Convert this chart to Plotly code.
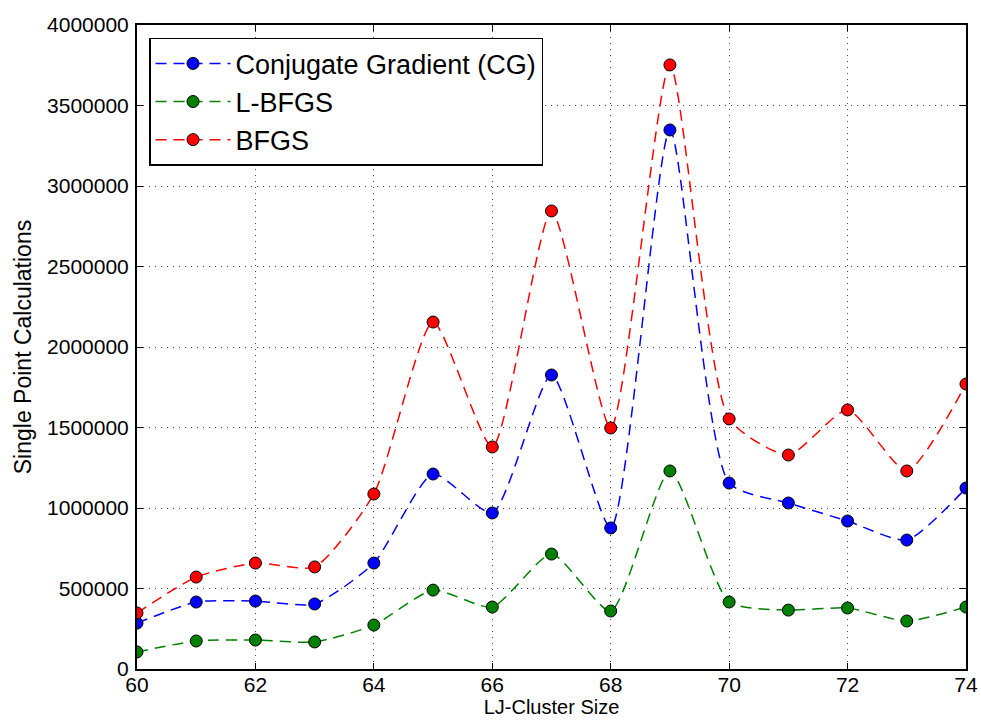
import plotly.graph_objects as go

sizes = list(range(60, 75))
cg = [285000, 416000, 422000, 404000, 658000, 1211000, 969000, 1826000, 876000, 3348000,
      1155000, 1031000, 919000, 801000, 1124000]
lbfgs = [106000, 174000, 180000, 168000, 273000, 490000, 385000, 714000, 360000, 1230000,
         416000, 366000, 379000, 298000, 385000]
bfgs = [348000, 571000, 658000, 634000, 1087000, 2155000, 1379000, 2845000, 1497000, 3752000,
        1553000, 1329000, 1609000, 1230000, 1770000]
x_ticks = [60, 62, 64, 66, 68, 70, 72, 74]

series = [("Conjugate Gradient (CG)", cg, "#0000ff"),
          ("L-BFGS", lbfgs, "#008000"),
          ("BFGS", bfgs, "#ff0000")]

FONT = "Liberation Sans, Arial"

fig = go.Figure()
for name, vals, col in series:
    fig.add_trace(go.Scatter(
        x=sizes, y=vals, name=name, mode="lines+markers",
        line=dict(color=col, width=1.5, dash="11px,7px", shape="spline", smoothing=0.6),
        marker=dict(color=col, size=12, line=dict(color="black", width=1)),
    ))

axis_common = dict(
    showline=True, linecolor="black", linewidth=2, mirror="ticks",
    ticks="inside", ticklen=6, tickcolor="black", tickwidth=1,
    showgrid=True, gridcolor="#444444", griddash="1px,5px", gridwidth=1,
    zeroline=False, tickfont=dict(family=FONT, size=21, color="black"),
    ticklabeloverflow="allow", automargin=False,
)

fig.update_layout(
    width=981, height=726,
    margin=dict(l=137, r=15, t=25, b=57),
    paper_bgcolor="white", plot_bgcolor="white",
    font=dict(family=FONT, color="black"),
    xaxis=dict(range=[60, 74], tickvals=x_ticks, ticklabelstandoff=-4,
               title=dict(text="LJ-Cluster Size", font=dict(size=20), standoff=3),
               **axis_common),
    yaxis=dict(range=[0, 4000000], dtick=500000, tickformat="d", ticklabelstandoff=2,
               title=dict(text="Single Point Calculations", font=dict(size=23), standoff=9),
               **axis_common),
    legend=dict(x=0.0145, y=0.98, xanchor="left", yanchor="top",
                bgcolor="white", bordercolor="black", borderwidth=1.5,
                font=dict(size=27, family=FONT),
                itemwidth=75, tracegroupgap=0),
    showlegend=True,
)

fig.write_html("out.html")
